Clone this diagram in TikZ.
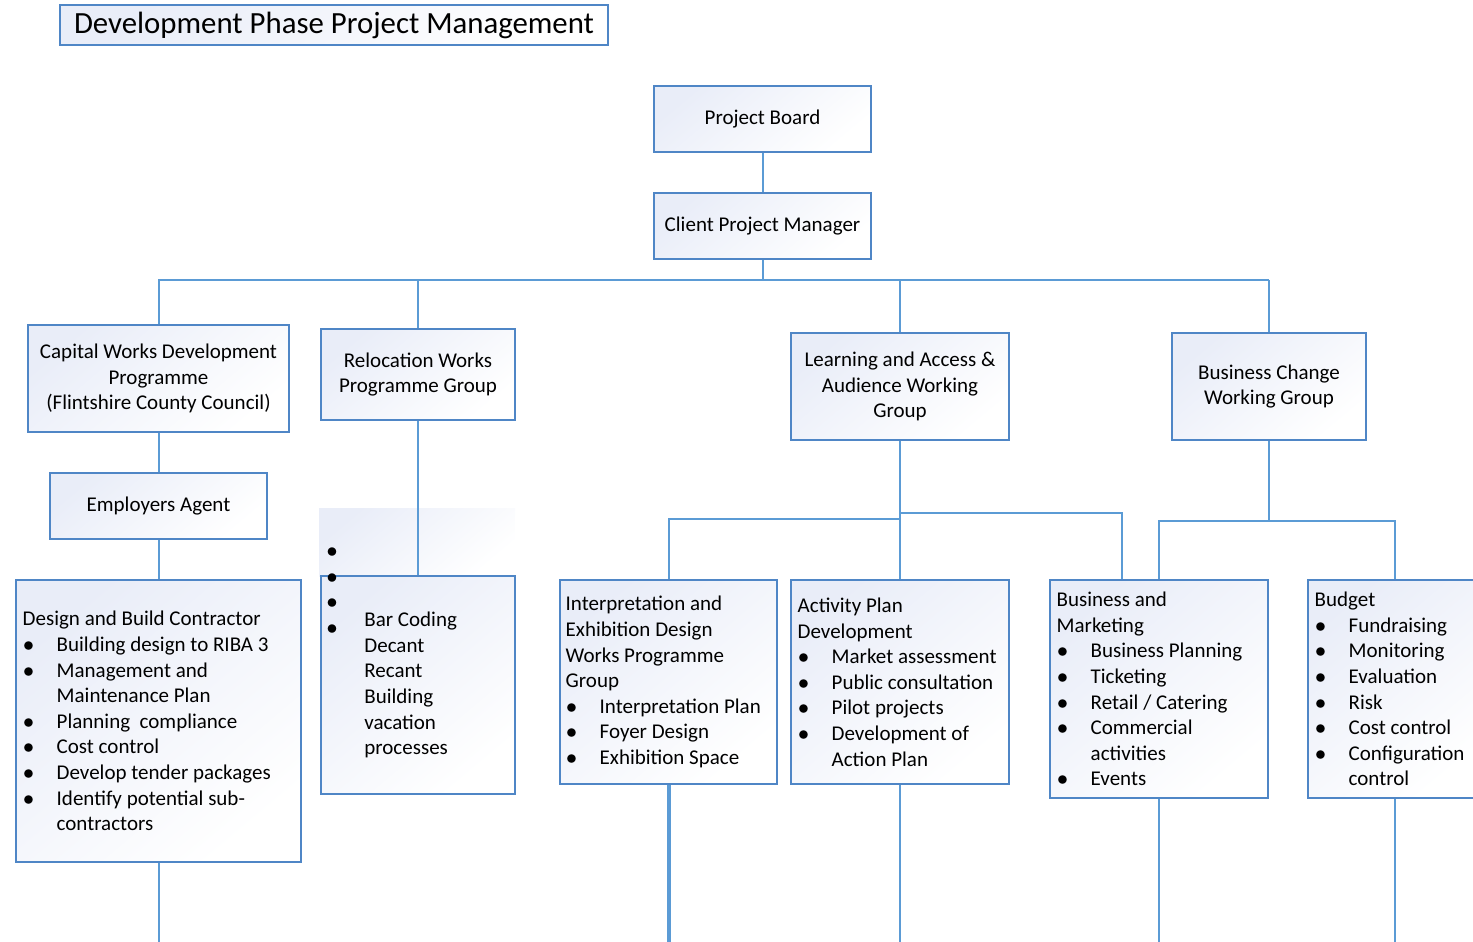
\documentclass[tikz,border=0pt]{standalone}
\usepackage{fontspec}
\setmainfont{Carlito}
\definecolor{linec}{HTML}{5B9BD5}
\definecolor{bordc}{HTML}{4F86C6}
\definecolor{fillc}{HTML}{E9EDF8}
\newlength\itmind \setlength\itmind{17pt}
\newlength\itmoff \setlength\itmoff{0.2pt}
\newcommand\itm[1]{\par\noindent\hangindent=\itmind\hangafter=1\makebox[\itmind][l]{\hspace{\itmoff}$\bullet$}#1}
\tikzset{
  box/.style={draw=bordc, line width=0.7pt, shade, top color=fillc, bottom color=white, shading angle=40,
    inner sep=0pt, align=center, font=\fontsize{10.5}{12.8}\selectfont},
  conn/.style={draw=linec, line width=1pt},
  listtext/.style={anchor=west, align=flush left, text width=200pt, inner sep=0pt, font=\fontsize{10.5}{12.8}\selectfont},
}
\newcommand\bx[6]{\node[box,#6,minimum width={(#4-#2)*0.5pt},minimum height={(#5-#3)*0.5pt}] (#1) at ({(#2+#4)/2},{(#3+#5)/2})}
\begin{document}
\begin{tikzpicture}[x=0.5pt,y=-0.5pt]
\path[use as bounding box, clip] (0,0) rectangle (1473,942);
\coordinate (bot) at (0,942);
% title
\bx{title}{60}{5}{608}{45}{font=\fontsize{15.4}{18}\selectfont} {Development Phase Project Management};
% top
\bx{pb}{654}{86}{871}{152}{} {Project Board};
\bx{cpm}{654}{193}{871}{259}{} {Client Project Manager};
% second level
\bx{cw}{28}{325}{289}{432}{} {Capital Works Development\\Programme\\(Flintshire County Council)};
\bx{rw}{321}{329}{515}{420}{} {Relocation Works\\Programme Group};
\bx{lw}{791}{333}{1009}{440}{} {Learning and Access \&\\Audience Working\\Group};
\bx{bc}{1172}{333}{1366}{440}{} {Business Change\\Working Group};
\bx{ea}{50}{473}{267}{539}{} {Employers Agent};
% relocation lower part
\shade[top color=fillc, bottom color=white, shading angle=40] (319,508) rectangle (515,576);
\bx{rw2}{321}{576}{515}{794}{} {};
% list boxes
\bx{db}{16}{580}{301}{862}{} {};
\bx{ip}{560}{580}{777}{784}{} {};
\bx{ap}{791}{580}{1009}{784}{} {};
\bx{bm}{1050}{580}{1268}{798}{} {};
\bx{bu}{1308}{580}{1482}{798}{} {};
% connectors
\coordinate (busL) at (158,280);
\coordinate (busR) at (1269,280);
\draw[conn] (pb) -- (cpm);
\draw[conn] (cpm.south) -- (cpm.south |- busL);
\draw[conn] (busL) -- (busR);
\draw[conn] (cw.north) -- (cw.north |- busL);
\draw[conn] (rw.north) -- (rw.north |- busL);
\draw[conn] (lw.north) -- (lw.north |- busL);
\draw[conn] (bc.north) -- (bc.north |- busL);
\draw[conn] (cw) -- (ea);
\draw[conn] (ea) -- (db);
\draw[conn] (db.south) -- (db.south |- bot);
\draw[conn] (rw) -- (rw2);
% learning branches
\coordinate (lj1) at (900,519);
\coordinate (lj2) at (900,513);
\coordinate (bmx) at (1122,0);
\draw[conn] (lw) -- (ap);
\draw[conn] (ip.north) |- (lj1);
\draw[conn] (bm.north -| bmx) |- (lj2);
\draw[conn, line width=2pt] (ip.south) -- (ip.south |- bot);
\draw[conn] (ap.south) -- (ap.south |- bot);
% business change branches
\coordinate (bj) at (1269,521);
\draw[conn] (bc.south) -- (bj);
\draw[conn] (bm.north) |- (bj);
\draw[conn] (bu.north) |- (bj);
\draw[conn] (bm.south) -- (bm.south |- bot);
\draw[conn] (bu.south) -- (bu.south |- bot);
% relocation bullets and text
\foreach \i/\yy in {1/553,2/579,3/604,4/630}{
  \node[inner sep=0pt, font=\fontsize{10.5}{12.8}\selectfont] (rb\i) at (332,\yy) {$\bullet$};
}
\node[listtext] (rw2t) at (364,685) {Bar Coding\\Decant\\Recant\\Building\\vacation\\processes};
% list texts
\node[listtext, xshift=3.5pt] (dbt) at (db.west) {Design and Build Contractor
\itm{Building design to RIBA 3}
\itm{Management and\newline Maintenance Plan}
\itm{Planning~ compliance}
\itm{Cost control}
\itm{Develop tender packages}
\itm{Identify potential sub-\newline contractors}\par};
\node[listtext, xshift=3pt] (ipt) at (ip.west) {Interpretation and\\Exhibition Design\\Works Programme\\Group
\itm{Interpretation Plan}
\itm{Foyer Design}
\itm{Exhibition Space}\par};
\node[listtext, xshift=3.5pt] (apt) at (ap.west) {Activity Plan\\Development
\itm{Market assessment}
\itm{Public consultation}
\itm{Pilot projects}
\itm{Development of\newline Action Plan}\par};
\node[listtext, xshift=3.5pt] (bmt) at (bm.west) {Business and\\Marketing
\itm{Business Planning}
\itm{Ticketing}
\itm{Retail / Catering}
\itm{Commercial\newline activities}
\itm{Events}\par};
\node[listtext, xshift=3.5pt] (but) at (bu.west) {Budget
\itm{Fundraising}
\itm{Monitoring}
\itm{Evaluation}
\itm{Risk}
\itm{Cost control}
\itm{Configuration\newline control}\par};
\end{tikzpicture}
\end{document}
